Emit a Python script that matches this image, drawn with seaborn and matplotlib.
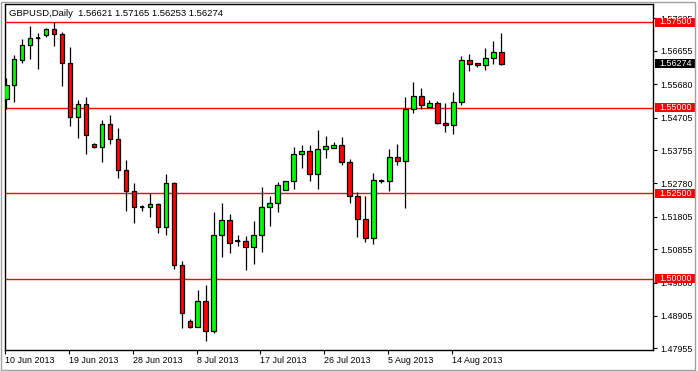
import matplotlib
matplotlib.use("Agg")
import matplotlib.pyplot as plt
from matplotlib.patches import Rectangle
import matplotlib.transforms as mtransforms
import numpy as np
import pandas as pd
import seaborn as sns

# ---------------- data ----------------
symbol_title = "GBPUSD,Daily  1.56621 1.57165 1.56253 1.56274"

opens = [1.55249, 1.55649, 1.56389, 1.56819, 1.57041, 1.57111, 1.57287, 1.57149, 1.56310, 1.54713,
         1.55111, 1.53941, 1.53854, 1.54509, 1.54070, 1.53164, 1.52550, 1.52082, 1.52082, 1.52170,
         1.51497, 1.52784, 1.50386, 1.48748, 1.48573, 1.49333, 1.48456, 1.51263, 1.51702, 1.51088,
         1.51088, 1.50930, 1.51263, 1.52082, 1.52199, 1.52596, 1.52842, 1.53632, 1.53719, 1.53047,
         1.53778, 1.53807, 1.53895, 1.53398, 1.52403, 1.51731, 1.51175, 1.52842, 1.52842, 1.53544,
         1.53427, 1.54947, 1.55327, 1.55006, 1.55123, 1.54538, 1.54480, 1.55152, 1.56380, 1.56292,
         1.56234, 1.56439, 1.56621]

highs = [1.55871, 1.56526, 1.56994, 1.57383, 1.57187, 1.57316, 1.57491, 1.57208, 1.56778, 1.55219,
         1.55298, 1.53971, 1.54634, 1.54781, 1.54401, 1.53465, 1.52792, 1.52158, 1.52491, 1.52216,
         1.53056, 1.52830, 1.50520, 1.48807, 1.49664, 1.49801, 1.51936, 1.52199, 1.51877, 1.51263,
         1.51251, 1.51681, 1.52666, 1.52403, 1.52822, 1.52842, 1.53836, 1.53903, 1.53903, 1.54333,
         1.54167, 1.53982, 1.54137, 1.53485, 1.52520, 1.52403, 1.53076, 1.52901, 1.53778, 1.53924,
         1.55298, 1.55737, 1.55561, 1.55211, 1.55181, 1.55123, 1.55444, 1.56497, 1.56556, 1.56292,
         1.56731, 1.56936, 1.57165]

lows = [1.54956, 1.55170, 1.56310, 1.56427, 1.56134, 1.57070, 1.56789, 1.55637, 1.54468, 1.54117,
        1.53649, 1.53825, 1.53406, 1.53941, 1.52947, 1.51982, 1.51632, 1.51982, 1.51807, 1.51339,
        1.51281, 1.50269, 1.48544, 1.48553, 1.48570, 1.48172, 1.48406, 1.50620, 1.50754, 1.50959,
        1.50257, 1.50433, 1.50784, 1.51544, 1.51953, 1.52579, 1.52626, 1.53240, 1.52860, 1.52626,
        1.53532, 1.53807, 1.53310, 1.52216, 1.51222, 1.51076, 1.51017, 1.52784, 1.52567, 1.53310,
        1.52047, 1.54830, 1.54947, 1.55006, 1.54509, 1.54275, 1.54216, 1.55064, 1.56058, 1.56175,
        1.56088, 1.56263, 1.56253]

closes = [1.55658, 1.56409, 1.56827, 1.57032, 1.57041, 1.57287, 1.57140, 1.56292, 1.54713, 1.55111,
          1.54205, 1.53854, 1.54509, 1.54070, 1.53164, 1.52550, 1.52082, 1.52082, 1.52170, 1.51497,
          1.52784, 1.50386, 1.48982, 1.48573, 1.49333, 1.48456, 1.51263, 1.51702, 1.51029, 1.51088,
          1.50930, 1.51263, 1.52082, 1.52199, 1.52725, 1.52842, 1.53632, 1.53719, 1.53047, 1.53778,
          1.53865, 1.53895, 1.53398, 1.52403, 1.51731, 1.51175, 1.52871, 1.52842, 1.53544, 1.53427,
          1.54947, 1.55327, 1.55064, 1.55123, 1.54538, 1.54480, 1.55152, 1.56380, 1.56263, 1.56234,
          1.56439, 1.56614, 1.56274]

date_labels = ["10 Jun 2013", "19 Jun 2013", "28 Jun 2013", "8 Jul 2013",
               "17 Jul 2013", "26 Jul 2013", "5 Aug 2013", "14 Aug 2013"]
date_label_bars = [0, 8, 16, 24, 32, 40, 48, 56]

price_ticks = [1.57605, 1.56655, 1.55680, 1.54705, 1.53755, 1.52780,
               1.51805, 1.50855, 1.49880, 1.48905, 1.47955]

levels = [1.57500, 1.55000, 1.52500, 1.50000]

# ---------------- style ----------------
sns.set_theme(style="white")
plt.rcParams["font.family"] = ["Liberation Sans", "DejaVu Sans"]

df = pd.DataFrame({"open": opens, "high": highs, "low": lows, "close": closes})
df["bar"] = np.arange(len(df))
df["body_lo"] = df[["open", "close"]].min(axis=1)
df["body_h"] = (df["close"] - df["open"]).abs()
df["dir"] = np.where(df["close"] > df["open"], "up",
                     np.where(df["close"] < df["open"], "down", "flat"))
fill = {"up": "#00FF00", "down": "#FF0000", "flat": "black"}

W, H = 698, 371
fig = plt.figure(figsize=(W / 100, H / 100), dpi=100)
fig.patch.set_facecolor("white")

ax_l, ax_r, ax_t, ax_b = 5, 653, 4, 350
ax = fig.add_axes([ax_l / W, (H - ax_b) / H, (ax_r - ax_l) / W, (ax_b - ax_t) / H])
ax.set_facecolor("white")

# wicks
ax.vlines(df["bar"], df["low"], df["high"], color="black", lw=0.9, zorder=2)

# bodies
body_w = 0.58
ax.bar(df["bar"], df["body_h"], bottom=df["body_lo"], width=body_w,
       color=[fill[d] for d in df["dir"]], edgecolor="black", linewidth=0.9, zorder=3)
flat = df[df["dir"] == "flat"]
ax.hlines(flat["open"], flat["bar"] - body_w / 2, flat["bar"] + body_w / 2,
          color="black", lw=1.3, zorder=4)

# horizontal levels
for lv in levels:
    ax.axhline(lv, color="#FF0000", lw=1.0, zorder=1)

# limits (bar spacing ~8 px)
px_per_bar = 7.99
first_bar_px = 5.7
ax.set_xlim(-(first_bar_px - ax_l) / px_per_bar, (ax_r - first_bar_px) / px_per_bar)
ppu = 3420.0
ax.set_ylim(1.575 - (ax_b - 22) / ppu, 1.575 + (22 - ax_t) / ppu)

# axes frame
for s in ax.spines.values():
    s.set_color("black")
    s.set_linewidth(1.0)
    s.set_visible(True)

# x ticks
ax.set_xticks([b - 0.15 for b in date_label_bars])
ax.set_xticklabels(date_labels, ha="left")
ax.tick_params(axis="x", direction="out", length=3, width=0.8, color="black",
               labelsize=6.4, pad=1.5, labelcolor="black", bottom=True)

# y ticks on the right
ax.yaxis.tick_right()
ax.set_yticks(price_ticks)
ax.set_yticklabels([f"{p:.5f}" for p in price_ticks])
ax.tick_params(axis="y", direction="out", length=3, width=0.8, color="black",
               labelsize=6.4, pad=2.5, labelcolor="black", right=True, left=False)
ax.grid(False)

# price labels for level lines and current price
trans = mtransforms.blended_transform_factory(fig.transFigure, ax.transData)
box_x0, box_x1 = 655 / W, 695 / W
box_h = 9.0 / ppu * 1.0
for lv in levels:
    ax.add_patch(Rectangle((box_x0, lv - 4.5 / ppu), box_x1 - box_x0, 9.0 / ppu,
                           transform=trans, facecolor="#FF0000", edgecolor="none",
                           clip_on=False, zorder=10))
    ax.text(659 / W, lv, f"{lv:.5f}", transform=trans, color="white",
            fontsize=6.4, va="center", ha="left", clip_on=False, zorder=11)
cur = closes[-1]
ax.add_patch(Rectangle((box_x0, cur - 4.5 / ppu), box_x1 - box_x0, 9.0 / ppu,
                       transform=trans, facecolor="black", edgecolor="none",
                       clip_on=False, zorder=10))
ax.text(659 / W, cur, f"{cur:.5f}", transform=trans, color="white",
        fontsize=6.4, va="center", ha="left", clip_on=False, zorder=11)

# title
fig.text(9 / W, 1 - 13 / H, symbol_title, fontsize=6.8, color="black",
         va="center", ha="left")

# window border
fig.add_artist(Rectangle((0.5 / W, 1.5 / H), 694.5 / W, (H - 3) / H,
                         transform=fig.transFigure, fill=False,
                         edgecolor="#a0a0a0", lw=1.0))

fig.savefig("out.png", dpi=100)
